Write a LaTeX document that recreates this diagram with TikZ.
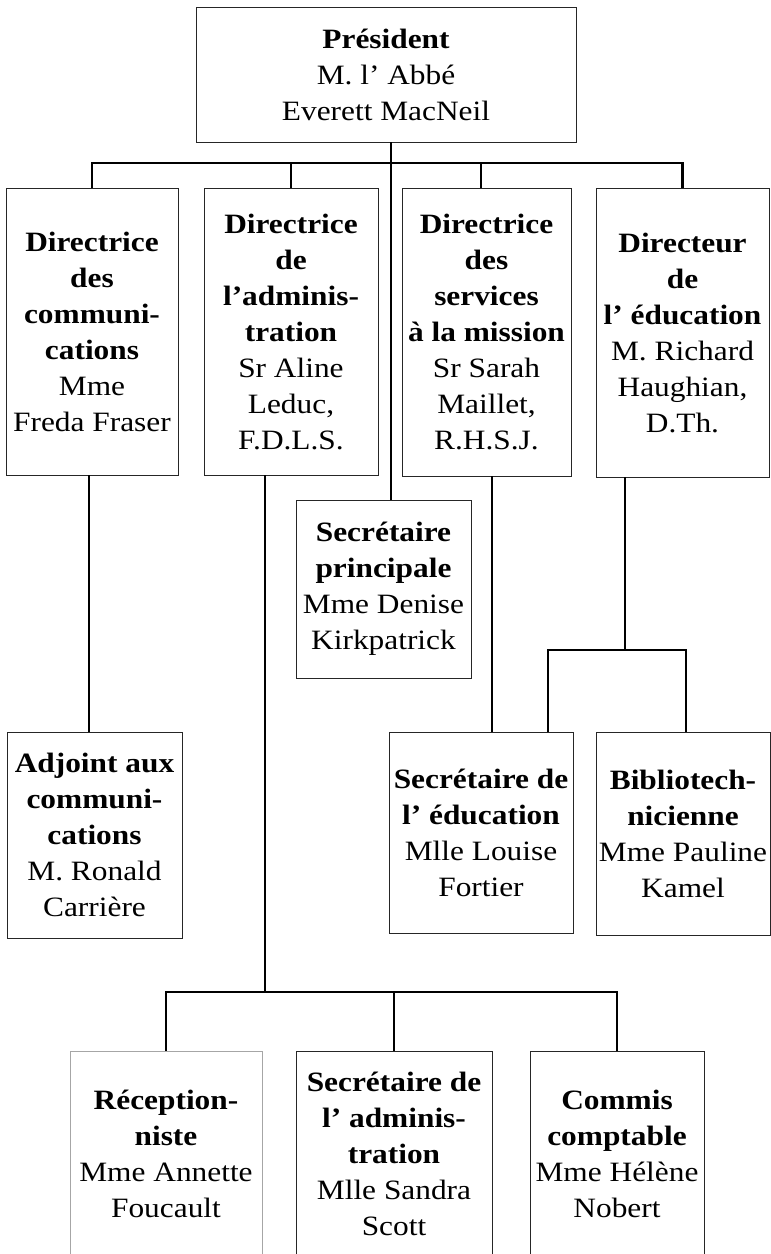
\documentclass[tikz,border=0pt]{standalone}
\usepackage{fontspec}
\setmainfont{Liberation Serif}[FakeStretch=1.12]
\begin{document}
\begin{tikzpicture}[x=1pt, y=-1pt,
    boite/.style={rectangle, draw=black!85, line width=0.9pt, inner sep=0pt, align=center, font=\fontsize{28}{36}\selectfont},
    lien/.style={line width=2.4pt},
    lienfin/.style={line width=1.4pt}]
  \useasboundingbox (0,0) rectangle (771,1254);
  \clip (0,0) rectangle (771,1254);

  % president
  \node[boite, minimum width=380pt, minimum height=135pt] (pres) at (386,74.5) {\textbf{Président}\\M. l' Abbé\\Everett MacNeil};

  % directions
  \node[boite, minimum width=172pt, minimum height=287pt] (dirA) at (92,331.5) {\textbf{Directrice}\\\textbf{des}\\\textbf{communi-}\\\textbf{cations}\\Mme\\Freda Fraser};
  \node[boite, minimum width=174pt, minimum height=287pt] (dirB) at (291,331.5) {\textbf{Directrice}\\\textbf{de}\\\textbf{l'adminis-}\\\textbf{tration}\\Sr Aline\\Leduc,\\F.D.L.S.};
  \node[boite, minimum width=169pt, minimum height=288pt] (dirC) at (486.5,332) {\textbf{Directrice}\\\textbf{des}\\\textbf{services}\\\textbf{à la mission}\\Sr Sarah\\Maillet,\\R.H.S.J.};
  \node[boite, minimum width=173pt, minimum height=289pt] (dirD) at (682.5,332.5) {\textbf{Directeur}\\\textbf{de}\\\textbf{l' éducation}\\M. Richard\\Haughian,\\D.Th.};

  \node[boite, minimum width=175pt, minimum height=178pt] (secp) at (383.5,589) {\textbf{Secrétaire}\\\textbf{principale}\\Mme Denise\\Kirkpatrick};

  % services
  \node[boite, minimum width=175pt, minimum height=206pt] (adj) at (94.5,835) {\textbf{Adjoint aux}\\\textbf{communi-}\\\textbf{cations}\\M. Ronald\\Carrière};
  \node[boite, minimum width=184pt, minimum height=201pt] (secedu) at (481,832.5) {\textbf{Secrétaire de}\\\textbf{l' éducation}\\Mlle Louise\\Fortier};
  \node[boite, minimum width=174pt, minimum height=203pt] (biblio) at (683,833.5) {\textbf{Bibliotech-}\\\textbf{nicienne}\\Mme Pauline\\Kamel};

  % administration
  \node[boite, draw=black!35, minimum width=192pt, minimum height=206pt] (recep) at (166,1154) {\textbf{Réception-}\\\textbf{niste}\\Mme Annette\\Foucault};
  \node[boite, minimum width=196pt, minimum height=206pt] (secadm) at (394,1154) {\textbf{Secrétaire de}\\\textbf{l' adminis-}\\\textbf{tration}\\Mlle Sandra\\Scott};
  \node[boite, minimum width=174pt, minimum height=206pt] (commis) at (617,1154) {\textbf{Commis}\\\textbf{comptable}\\Mme Hélène\\Nobert};

  \coordinate (barre) at (0,163);
  \coordinate (barreadm) at (0,992);
  \coordinate (barreedu) at (0,650);
  \coordinate (xtronc) at (391,0);
  \coordinate (xdC) at (481,0);
  \coordinate (xcom) at (89,0);
  \coordinate (xadm) at (265,0);
  \coordinate (xmis) at (492,0);
  \coordinate (xedu) at (625,0);
  \coordinate (xsec) at (548,0);
  \coordinate (xbib) at (686,0);

  \draw[lien] (pres.south -| xtronc) -- (secp.north -| xtronc);
  \draw[lien] (dirA.north) -- (dirA.north |- barre) -- (dirD.north |- barre) -- (dirD.north);
  \draw[lien] (dirB.north |- barre) -- (dirB.north);
  \draw[lien] (barre -| xdC) -- (dirC.north -| xdC);

  \draw[lienfin] (dirA.south -| xcom) -- (adj.north -| xcom);
  \draw[lien] (dirC.south -| xmis) -- (secedu.north -| xmis);
  \draw[lienfin] (dirD.south -| xedu) -- (barreedu -| xedu);
  \draw[lien] (secedu.north -| xsec) -- (barreedu -| xsec) -- (barreedu -| xbib) -- (biblio.north -| xbib);

  \draw[lien] (dirB.south -| xadm) -- (barreadm -| xadm);
  \draw[lien] (recep.north) -- (recep.north |- barreadm) -- (commis.north |- barreadm) -- (commis.north);
  \draw[lien] (secadm.north |- barreadm) -- (secadm.north);
\end{tikzpicture}
\end{document}
